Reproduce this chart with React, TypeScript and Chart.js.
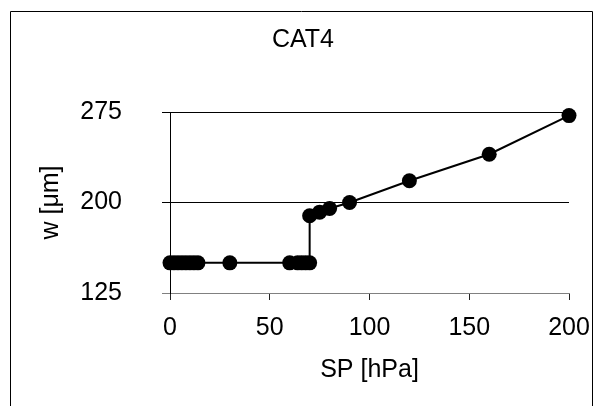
import React, { useEffect, useRef } from "react";
import { Chart, registerables } from "chart.js";

Chart.register(...registerables);

const SP_HPA = [0, 2, 4, 6, 8, 10, 12, 14, 30, 60, 64, 66, 68, 70, 70, 75, 80, 90, 120, 160, 200];
const W_UM = [150, 150, 150, 150, 150, 150, 150, 150, 150, 150, 150, 150, 150, 150, 189, 192, 195, 200, 218, 240, 272];
const X_TICKS = [0, 50, 100, 150, 200];
const Y_TICKS = [125, 200, 275];
const TITLE = "CAT4";
const X_LABEL = "SP [hPa]";
const Y_LABEL = "w [μm]";

const FONT = "'Liberation Sans', Arial, sans-serif";
const FS = 25;

const framePlugin = {
  id: "frame",
  beforeDraw(chart: any) {
    const ctx = chart.ctx;
    ctx.save();
    ctx.strokeStyle = "#000";
    ctx.lineWidth = 1;
    ctx.beginPath();
    ctx.moveTo(10.5, 420);
    ctx.lineTo(10.5, 11.5);
    ctx.lineTo(592.5, 11.5);
    ctx.lineTo(592.5, 420);
    ctx.stroke();
    ctx.restore();
  },
  afterDraw(chart: any) {
    const ctx = chart.ctx;
    ctx.save();
    ctx.fillStyle = "#000";
    ctx.font = `${FS}px ${FONT}`;
    ctx.textAlign = "center";
    ctx.textBaseline = "alphabetic";
    ctx.fillText(TITLE, 303, 47);
    ctx.restore();
  },
};

export default function App() {
  const ref = useRef<HTMLCanvasElement | null>(null);
  useEffect(() => {
    if (!ref.current) return;
    const chart = new Chart(ref.current, {
      type: "scatter",
      data: {
        datasets: [
          {
            data: SP_HPA.map((x, i) => ({ x, y: W_UM[i] })),
            showLine: true,
            borderColor: "#000",
            borderWidth: 2,
            backgroundColor: "#000",
            pointBackgroundColor: "#000",
            pointBorderWidth: 0,
            pointRadius: 7.5,
            pointHoverRadius: 7.5,
            clip: false as any,
          },
        ],
      },
      options: {
        responsive: false,
        animation: false,
        layout: { padding: { top: 112, right: 27, left: 0, bottom: 0 } },
        plugins: {
          legend: { display: false },
          title: { display: false },
          tooltip: { enabled: false },
        },
        scales: {
          x: {
            type: "linear",
            min: 0,
            max: 200,
            afterBuildTicks: (s: any) => {
              s.ticks = X_TICKS.map((v) => ({ value: v }));
            },
            afterFit: (s: any) => {
              s.height = 113;
              s.paddingLeft = 0;
              s.paddingRight = 0;
            },
            grid: {
              drawOnChartArea: false,
              drawTicks: true,
              tickLength: 7,
              color: "#222",
            },
            border: { display: true, color: "#808080", width: 1 },
            ticks: {
              color: "#000",
              padding: 13,
              maxRotation: 0,
              autoSkip: false,
              font: { family: FONT, size: FS },
            },
            title: {
              display: true,
              text: X_LABEL,
              color: "#000",
              font: { family: FONT, size: FS },
              padding: { top: 0, bottom: 21 },
            },
          },
          y: {
            type: "linear",
            min: 125,
            max: 275,
            afterBuildTicks: (s: any) => {
              s.ticks = Y_TICKS.map((v) => ({ value: v }));
            },
            afterFit: (s: any) => {
              s.width = 170;
              s.paddingTop = 0;
              s.paddingBottom = 0;
            },
            grid: {
              drawOnChartArea: true,
              drawTicks: true,
              tickLength: 8,
              color: (c: any) => (c.tick && c.tick.value === 125 ? "#808080" : "#000"),
              lineWidth: 1,
            },
            border: { display: true, color: "#000", width: 1 },
            ticks: {
              color: "#000",
              padding: 40,
              autoSkip: false,
              font: { family: FONT, size: FS },
            },
            title: {
              display: true,
              text: Y_LABEL,
              color: "#000",
              font: { family: FONT, size: FS },
              padding: { top: 36, bottom: 0 },
            },
          },
        },
      },
      plugins: [framePlugin],
    });
    return () => chart.destroy();
  }, []);
  return (
    <div style={{ position: "fixed", left: 0, top: 0, width: 596, height: 406, background: "#fff" }}>
      <canvas ref={ref} width={596} height={406} style={{ width: 596, height: 406, display: "block" }} />
    </div>
  );
}
